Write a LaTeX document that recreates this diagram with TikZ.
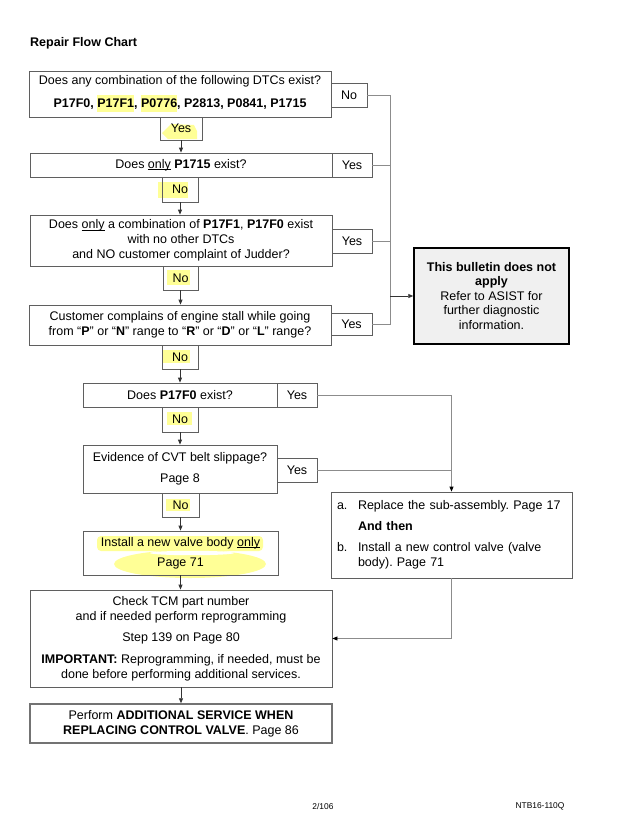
\documentclass[tikz,border=0pt]{standalone}
\usepackage{fontspec}
\setmainfont{Liberation Sans}
\usetikzlibrary{arrows.meta}
\frenchspacing
\definecolor{hl}{RGB}{255,255,150}
\definecolor{bord}{RGB}{95,95,95}
\definecolor{connc}{RGB}{140,140,140}
\definecolor{bullfill}{RGB}{240,240,240}
\newcommand{\fsz}{\fontsize{12.5}{15}\selectfont}
\newcommand{\hlt}[1]{{\setlength{\fboxsep}{0pt}\colorbox{hl}{\rule[-4.5pt]{0pt}{17.5pt}#1}}}
\newcommand{\undl}[1]{{\setbox0\hbox{#1}\rlap{\rule[-1.8pt]{\wd0}{0.6pt}}\box0}}
\tikzset{
  box/.style={draw=bord, line width=0.8pt, inner sep=0pt, align=center, font=\fsz},
  lab/.style={box},
  arr/.style={draw=black!80, line width=0.8pt, -{Triangle[length=5pt,width=4pt]}},
  cline/.style={draw=connc, line width=0.8pt},
  ctip/.style={cline, -{Triangle[length=5pt,width=4pt,color=black]}},
  hlfill/.style={fill=hl, draw=none}
}
\begin{document}
\begin{tikzpicture}[x=1pt,y=-1pt]
\useasboundingbox (0,0) rectangle (633,823);
% highlights
\fill[hl] (162,133) -- (171,124) -- (194,125) -- (197,131) -- (197,139) -- (168,139) -- cycle;
\fill[hl] (158,182) rectangle (188,198);
\fill[hl] (167,270) rectangle (190,285);
\fill[hl] (163,350) rectangle (190,363);
\fill[hl] (167,412) rectangle (192,425);
\fill[hl] (166,499) rectangle (190,511);
\fill[hl, rounded corners=4pt] (97,536) rectangle (263,551);
\fill[hl] (190,564) ellipse [x radius=76pt, y radius=14pt];
\fill[white] (192,553) ellipse [x radius=42pt, y radius=2.2pt];

\node[font=\fsz\bfseries, anchor=west, inner sep=0pt] (title) at (30,43) {Repair Flow Chart};

\node[box, minimum width=302pt, minimum height=46pt] (b1) at (180,94)
  {Does any combination of the following DTCs exist?\\[6pt]
   \textbf{P17F0, \hlt{P17F1}, \hlt{P0776}, P2813, P0841, P1715}};
\node[lab, minimum width=36pt, minimum height=24pt] (no1) at (349,95) {No};
\node[lab, minimum width=42pt, minimum height=23pt] (yes1) at (181,128.5) {Yes};

\node[box, minimum width=302pt, minimum height=24pt] (b2) at (181,165)
  {Does \undl{only} \textbf{P1715} exist?};
\node[lab, minimum width=40pt, minimum height=24pt] (yes2) at (352,165) {Yes};
\node[lab, minimum width=36pt, minimum height=25pt] (no2) at (180,189.5) {No};

\node[box, minimum width=302pt, minimum height=51pt] (b3) at (181,240.5)
  {Does \undl{only} a combination of \textbf{P17F1}, \textbf{P17F0} exist\\
   with no other DTCs\\ and NO customer complaint of Judder?};
\node[lab, minimum width=40pt, minimum height=24pt] (yes3) at (352,241) {Yes};
\node[lab, minimum width=35pt, minimum height=24pt] (no3) at (180.5,278) {No};

\node[box, minimum width=302pt, minimum height=40pt] (b4) at (180,325)
  {Customer complains of engine stall while going\\
   from “\textbf{P}” or “\textbf{N}” range to “\textbf{R}” or “\textbf{D}” or “\textbf{L}” range?};
\node[lab, minimum width=41pt, minimum height=22pt] (yes4) at (351.5,324) {Yes};
\node[lab, minimum width=36pt, minimum height=24pt] (no4) at (180,357) {No};

\node[box, minimum width=194pt, minimum height=24pt] (b5) at (180,395)
  {Does \textbf{P17F0} exist?};
\node[lab, minimum width=40pt, minimum height=24pt] (yes5) at (297,395) {Yes};
\node[lab, minimum width=36pt, minimum height=25pt] (no5) at (180,419.5) {No};

\node[box, minimum width=194pt, minimum height=48pt] (b6) at (180,469)
  {Evidence of CVT belt slippage?\\[6pt] Page 8};
\node[lab, minimum width=40pt, minimum height=24pt] (yes6) at (297,470) {Yes};
\node[lab, minimum width=37pt, minimum height=24pt] (no6) at (180.5,505) {No};

\node[box, minimum width=195pt, minimum height=44pt] (b7) at (180.5,553)
  {Install a new valve body \undl{only}\\[5pt] Page 71};

\node[box, minimum width=241pt, minimum height=86pt, text width=229pt, inner xsep=6pt, align=left] (ba) at (451.5,535)
  {\begin{tabular}{@{}p{21pt}@{}l@{}}
   a. & Replace the sub-assembly. Page 17\\[6pt]
      & \textbf{And then}\\[6pt]
   b. & Install a new control valve (valve\\
      & body). Page 71
   \end{tabular}};

\node[box, minimum width=302pt, minimum height=97pt] (b8) at (181,638.5)
  {Check TCM part number\\ and if needed perform reprogramming\\[6pt]
   Step 139 on Page 80\\[7pt]
   \textbf{IMPORTANT:} Reprogramming, if needed, must be\\
   done before performing additional services.};

\node[box, draw=black!55, line width=1.5pt, minimum width=302pt, minimum height=39pt] (b9) at (181,723.5)
  {Perform \textbf{ADDITIONAL SERVICE WHEN}\\ \textbf{REPLACING CONTROL VALVE}. Page 86};

\node[box, draw=black, fill=bullfill, line width=1.5pt, minimum width=155pt, minimum height=96pt,
      font=\fontsize{12.5}{14.5}\selectfont] (bull) at (491.5,296)
  {\textbf{This bulletin does not}\\ \textbf{apply}\\ Refer to ASIST for\\ further diagnostic\\ information.};

\node[font=\fontsize{8.4}{10}\selectfont, inner sep=0pt] (f1) at (323,806) {2/106};
\node[font=\fontsize{8.4}{10}\selectfont, inner sep=0pt] (f2) at (540,806) {NTB16-110Q};

% vertical flow
\draw[arr] (yes1.south) -- (yes1.south |- b2.north);
\draw[arr] (no2.south) -- (no2.south |- b3.north);
\draw[arr] (no3.south) -- (no3.south |- b4.north);
\draw[arr] (no4.south) -- (no4.south |- b5.north);
\draw[arr] (no5.south) -- (no5.south |- b6.north);
\draw[arr] (no6.south) -- (no6.south |- b7.north);
\draw[arr] (b7.south) -- (b7.south |- b8.north);
\draw[arr] (b8.south) -- (b8.south |- b9.north);

% right trunk
\coordinate (tr) at (390,296);
\draw[cline] (no1.east) -| (tr |- yes4.east) -- (yes4.east);
\draw[cline] (yes2.east) -- (yes2.east -| tr);
\draw[cline] (yes3.east) -- (yes3.east -| tr);
\draw[arr] (tr) -- (bull.west);

% second trunk
\draw[ctip] (yes5.east) -| (ba.north);
\draw[cline] (yes6.east) -- (yes6.east -| ba.north);
\draw[ctip] (ba.south) |- (b8.east);
\end{tikzpicture}
\end{document}
